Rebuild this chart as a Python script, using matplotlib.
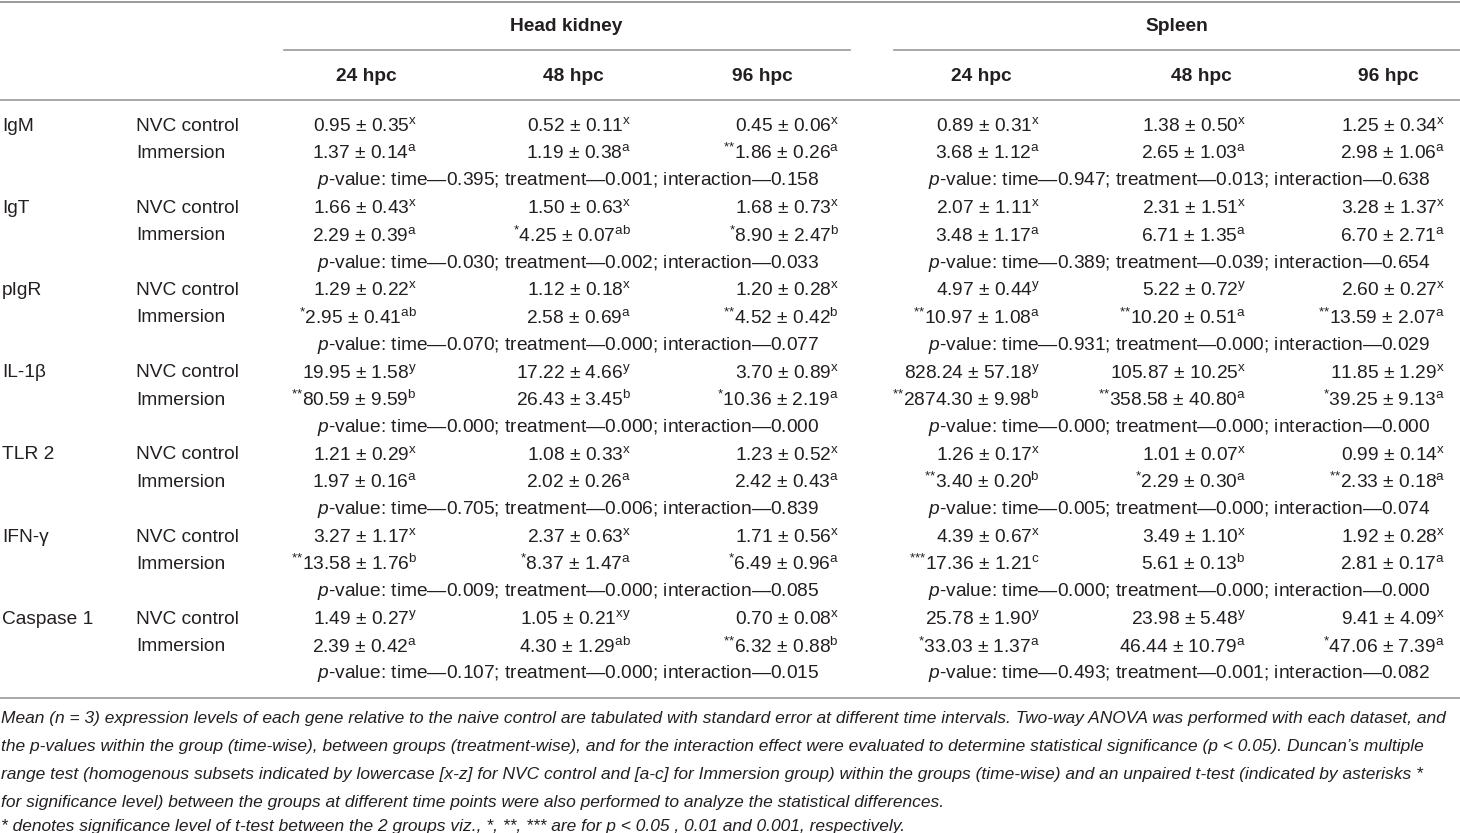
import matplotlib
matplotlib.use("Agg")
import matplotlib.pyplot as plt

plt.rcParams["font.family"] = ["Liberation Sans", "DejaVu Sans"]
plt.rcParams["mathtext.fontset"] = "custom"
plt.rcParams["mathtext.rm"] = "Liberation Sans"
plt.rcParams["mathtext.it"] = "Liberation Sans:italic"
plt.rcParams["mathtext.bf"] = "Liberation Sans:bold"

# data
genes = ["IgM", "IgT", "pIgR", "IL-1β", "TLR 2", "IFN-γ", "Caspase 1"]
groups = ["NVC control", "Immersion"]
tissues = ["Head kidney", "Spleen"]
times = ["24 hpc", "48 hpc", "96 hpc"]

hk_nvc = [["0.95 ± 0.35", "0.52 ± 0.11", "0.45 ± 0.06"],
          ["1.66 ± 0.43", "1.50 ± 0.63", "1.68 ± 0.73"],
          ["1.29 ± 0.22", "1.12 ± 0.18", "1.20 ± 0.28"],
          ["19.95 ± 1.58", "17.22 ± 4.66", "3.70 ± 0.89"],
          ["1.21 ± 0.29", "1.08 ± 0.33", "1.23 ± 0.52"],
          ["3.27 ± 1.17", "2.37 ± 0.63", "1.71 ± 0.56"],
          ["1.49 ± 0.27", "1.05 ± 0.21", "0.70 ± 0.08"]]
hk_nvc_sig = [["x", "x", "x"], ["x", "x", "x"], ["x", "x", "x"], ["y", "y", "x"],
              ["x", "x", "x"], ["x", "x", "x"], ["y", "xy", "x"]]
hk_imm = [["1.37 ± 0.14", "1.19 ± 0.38", "1.86 ± 0.26"],
          ["2.29 ± 0.39", "4.25 ± 0.07", "8.90 ± 2.47"],
          ["2.95 ± 0.41", "2.58 ± 0.69", "4.52 ± 0.42"],
          ["80.59 ± 9.59", "26.43 ± 3.45", "10.36 ± 2.19"],
          ["1.97 ± 0.16", "2.02 ± 0.26", "2.42 ± 0.43"],
          ["13.58 ± 1.76", "8.37 ± 1.47", "6.49 ± 0.96"],
          ["2.39 ± 0.42", "4.30 ± 1.29", "6.32 ± 0.88"]]
hk_imm_sig = [["a", "a", "a"], ["a", "ab", "b"], ["ab", "a", "b"], ["b", "b", "a"],
              ["a", "a", "a"], ["b", "a", "a"], ["a", "ab", "b"]]
hk_stars = [["", "", "**"], ["", "*", "*"], ["*", "", "**"], ["**", "", "*"],
            ["", "", ""], ["**", "*", "*"], ["", "", "**"]]
hk_p = [["0.395", "0.001", "0.158"], ["0.030", "0.002", "0.033"],
        ["0.070", "0.000", "0.077"], ["0.000", "0.000", "0.000"],
        ["0.705", "0.006", "0.839"], ["0.009", "0.000", "0.085"],
        ["0.107", "0.000", "0.015"]]

sp_nvc = [["0.89 ± 0.31", "1.38 ± 0.50", "1.25 ± 0.34"],
          ["2.07 ± 1.11", "2.31 ± 1.51", "3.28 ± 1.37"],
          ["4.97 ± 0.44", "5.22 ± 0.72", "2.60 ± 0.27"],
          ["828.24 ± 57.18", "105.87 ± 10.25", "11.85 ± 1.29"],
          ["1.26 ± 0.17", "1.01 ± 0.07", "0.99 ± 0.14"],
          ["4.39 ± 0.67", "3.49 ± 1.10", "1.92 ± 0.28"],
          ["25.78 ± 1.90", "23.98 ± 5.48", "9.41 ± 4.09"]]
sp_nvc_sig = [["x", "x", "x"], ["x", "x", "x"], ["y", "y", "x"], ["y", "x", "x"],
              ["x", "x", "x"], ["x", "x", "x"], ["y", "y", "x"]]
sp_imm = [["3.68 ± 1.12", "2.65 ± 1.03", "2.98 ± 1.06"],
          ["3.48 ± 1.17", "6.71 ± 1.35", "6.70 ± 2.71"],
          ["10.97 ± 1.08", "10.20 ± 0.51", "13.59 ± 2.07"],
          ["2874.30 ± 9.98", "358.58 ± 40.80", "39.25 ± 9.13"],
          ["3.40 ± 0.20", "2.29 ± 0.30", "2.33 ± 0.18"],
          ["17.36 ± 1.21", "5.61 ± 0.13", "2.81 ± 0.17"],
          ["33.03 ± 1.37", "46.44 ± 10.79", "47.06 ± 7.39"]]
sp_imm_sig = [["a", "a", "a"], ["a", "a", "a"], ["a", "a", "a"], ["b", "a", "a"],
              ["b", "a", "a"], ["c", "b", "a"], ["a", "a", "a"]]
sp_stars = [["", "", ""], ["", "", ""], ["**", "**", "**"], ["**", "**", "*"],
            ["**", "*", "**"], ["***", "", ""], ["*", "", "*"]]
sp_p = [["0.947", "0.013", "0.638"], ["0.389", "0.039", "0.654"],
        ["0.931", "0.000", "0.029"], ["0.000", "0.000", "0.000"],
        ["0.005", "0.000", "0.074"], ["0.000", "0.000", "0.000"],
        ["0.493", "0.001", "0.082"]]

caption = [
    "Mean (n = 3) expression levels of each gene relative to the naive control are tabulated with standard error at different time intervals. Two-way ANOVA was performed with each dataset, and",
    "the p-values within the group (time-wise), between groups (treatment-wise), and for the interaction effect were evaluated to determine statistical significance (p < 0.05). Duncan\u2019s multiple",
    "range test (homogenous subsets indicated by lowercase [x-z] for NVC control and [a-c] for Immersion group) within the groups (time-wise) and an unpaired t-test (indicated by asterisks *",
    "for significance level) between the groups at different time points were also performed to analyze the statistical differences.",
]
footnote = "* denotes significance level of t-test between the 2 groups viz., *, **, *** are for p < 0.05 , 0.01 and 0.001, respectively."

# layout (pixels)
W, H = 1460, 833
col_right = [417, 631, 839, 1040, 1246, 1445]
head_x = [366, 573, 762, 981, 1201, 1388]
tissue_x = [566, 1177]
tissue_span = [(284, 850), (894, 1460)]
row0, row_h = 126, 27.4
fs = 13.8
txt = "#231f20"
rule = "#9a9a9a"

fig = plt.figure(figsize=(W / 100, H / 100), dpi=100)
ax = fig.add_axes([0, 0, 1, 1])
ax.set_xlim(0, W)
ax.set_ylim(H, 0)
ax.axis("off")

# rules
ax.plot([0, W], [1.5, 1.5], color=rule, lw=1.4)
for a, b in tissue_span:
    ax.plot([a, b], [50, 50], color=rule, lw=1.2)
ax.plot([0, W], [100, 100], color=rule, lw=1.2)
ax.plot([0, W], [698, 698], color=rule, lw=1.2)

# headers
for i, t in enumerate(tissues):
    ax.text(tissue_x[i], 26, t, ha="center", va="center", fontsize=fs, fontweight="bold", color=txt)
for k in range(6):
    ax.text(head_x[k], 76, times[k % 3], ha="center", va="center", fontsize=fs, fontweight="bold", color=txt)


def cell(stars, val, sig):
    s = ""
    if stars:
        s += "$^{" + "{*}" * len(stars) + "}$"
    return s + val + r"$^{\mathrm{" + sig + "}}$"


for g in range(len(genes)):
    y0 = row0 + 3 * g * row_h
    ax.text(2, y0, genes[g], ha="left", va="center", fontsize=fs, color=txt)
    ax.text(136, y0, groups[0], ha="left", va="center", fontsize=fs, color=txt)
    ax.text(136, y0 + row_h, groups[1], ha="left", va="center", fontsize=fs, color=txt)
    for j in range(3):
        ax.text(col_right[j], y0, cell("", hk_nvc[g][j], hk_nvc_sig[g][j]),
                ha="right", va="center", fontsize=fs, color=txt)
        ax.text(col_right[j], y0 + row_h, cell(hk_stars[g][j], hk_imm[g][j], hk_imm_sig[g][j]),
                ha="right", va="center", fontsize=fs, color=txt)
        ax.text(col_right[j + 3], y0, cell("", sp_nvc[g][j], sp_nvc_sig[g][j]),
                ha="right", va="center", fontsize=fs, color=txt)
        ax.text(col_right[j + 3], y0 + row_h, cell(sp_stars[g][j], sp_imm[g][j], sp_imm_sig[g][j]),
                ha="right", va="center", fontsize=fs, color=txt)
    for i, pv in enumerate([hk_p[g], sp_p[g]]):
        s = (r"$\mathit{p}$-value: time" + "\u2014" + pv[0] + "; treatment\u2014" + pv[1]
             + "; interaction\u2014" + pv[2])
        ax.text(tissue_x[i] + 2, y0 + 2 * row_h, s, ha="center", va="center", fontsize=fs, color=txt)

# caption, scaled so the first line spans the page width
cap_y = [719, 747, 775, 803]
cap_txt = []
for i, line in enumerate(caption):
    cap_txt.append(ax.text(1, cap_y[i], line, ha="left", va="center", fontsize=11,
                           style="italic", color=txt))
cap_txt.append(ax.text(1, 826, footnote, ha="left", va="center", fontsize=11,
                       style="italic", color=txt))
fig.canvas.draw()
w = cap_txt[0].get_window_extent(fig.canvas.get_renderer()).width
for t in cap_txt:
    t.set_fontsize(11 * 1450 / w)

fig.savefig("out.png", dpi=100)
